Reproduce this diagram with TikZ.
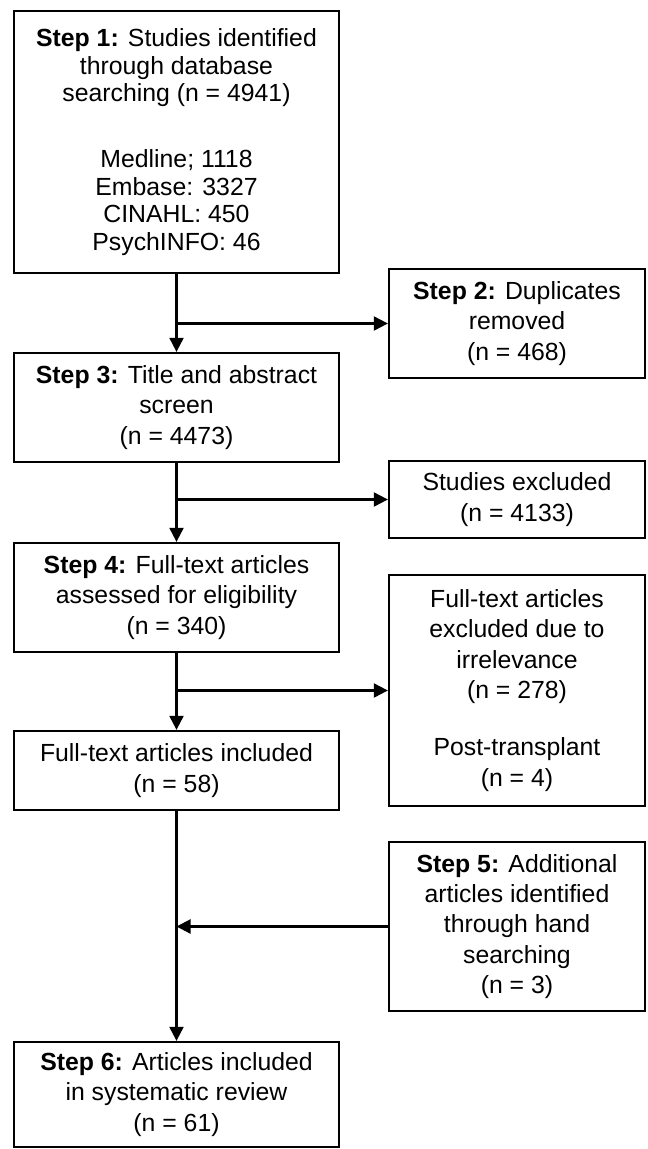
\documentclass[tikz,border=0pt]{standalone}
\usepackage{fontspec}
\setmainfont{Liberation Sans}
\usetikzlibrary{arrows.meta}
\begin{document}
\begin{tikzpicture}[x=1pt,y=-1pt,
  box/.style={draw=black, line width=2.3pt, inner sep=0pt, align=center,
    font=\fontsize{24.8}{30.3}\selectfont},
  arr/.style={line width=2.1pt, -{Triangle[length=14pt,width=14pt]}}]
\useasboundingbox (0,0) rectangle (648,1149);
% left column
\node[box, minimum width=325pt, minimum height=262pt,
  font=\fontsize{24.8}{27.4}\selectfont] (s1) at (176.5,142)
  {\textbf{Step 1:} Studies identified\\through database\\searching (n = 4941)\\[39pt]Medline; 1118\\Embase: 3327\\CINAHL: 450\\PsychINFO: 46};
\node[box, minimum width=325pt, minimum height=109pt] (s3) at (176.5,407.5)
  {\textbf{Step 3:} Title and abstract\\screen\\(n = 4473)};
\node[box, minimum width=325pt, minimum height=109pt] (s4) at (176.5,597.5)
  {\textbf{Step 4:} Full-text articles\\assessed for eligibility\\(n = 340)};
\node[box, minimum width=325pt, minimum height=79pt] (inc) at (176.5,770.5)
  {Full-text articles included\\(n = 58)};
\node[box, minimum width=325pt, minimum height=105pt] (s6) at (176.5,1094.5)
  {\textbf{Step 6:} Articles included\\in systematic review\\(n = 61)};
% right column
\node[box, minimum width=256pt, minimum height=109pt] (s2) at (517,323.5)
  {\textbf{Step 2:} Duplicates\\removed\\(n = 468)};
\node[box, minimum width=256pt, minimum height=77pt] (exc) at (517,499.5)
  {Studies excluded\\(n = 4133)};
\node[box, minimum width=256pt, minimum height=231pt] (fte) at (517,690.5)
  {Full-text articles\\excluded due to\\irrelevance\\(n = 278)\\[27pt]Post-transplant\\(n = 4)};
\node[box, minimum width=256pt, minimum height=169pt] (s5) at (517,926.5)
  {\textbf{Step 5:} Additional\\articles identified\\through hand\\searching\\(n = 3)};
% connectors
\coordinate (j1) at (s1.south |- s2.west);
\coordinate (j2) at (s3.south |- exc.west);
\coordinate (j3) at (s4.south |- fte.west);
\coordinate (j4) at (inc.south |- s5.west);
\draw[arr] (s1.south) -- (s3.north);
\draw[arr] (j1) -- (s2.west);
\draw[arr] (s3.south) -- (s4.north);
\draw[arr] (j2) -- (exc.west);
\draw[arr] (s4.south) -- (inc.north);
\draw[arr] (j3) -- (fte.west);
\draw[arr] (inc.south) -- (s6.north);
\draw[arr] (s5.west) -- (j4);
\end{tikzpicture}
\end{document}
